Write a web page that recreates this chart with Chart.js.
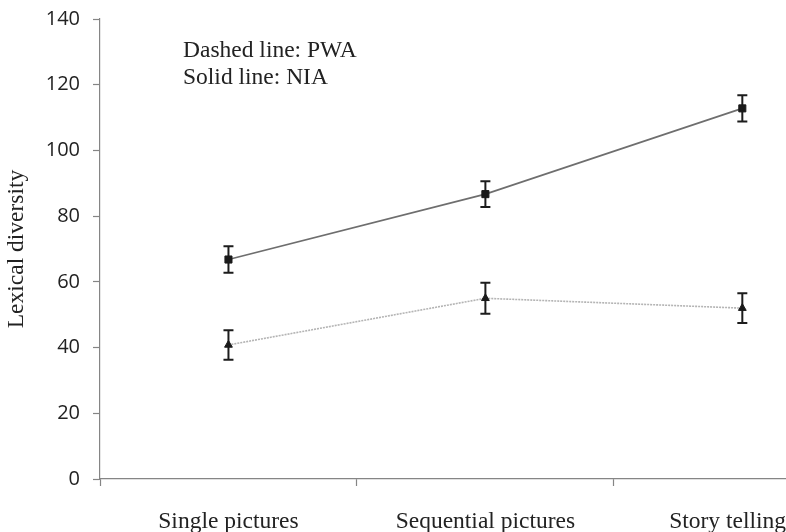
<!DOCTYPE html>
<html>
<head>
<meta charset="utf-8">
<script src="https://cdn.jsdelivr.net/npm/chart.js@4.4.1/dist/chart.umd.min.js"></script>
<style>
  html, body { margin: 0; padding: 0; background: #fff; }
  #wrap { position: relative; width: 786px; height: 532px; }
</style>
</head>
<body>
<div id="wrap"><canvas id="chart"></canvas></div>
<script>
'use strict';

const CATEGORIES = ['Single pictures', 'Sequential pictures', 'Story telling'];
const NIA_MEAN = [66.8, 86.7, 112.8];
const NIA_ERR = [4.0, 3.9, 4.0];
const PWA_MEAN = [40.8, 55.0, 52.0];
const PWA_ERR = [4.5, 4.7, 4.5];
const Y_TICKS = [0, 20, 40, 60, 80, 100, 120, 140];
const NOTE_LINES = ['Dashed line: PWA', 'Solid line: NIA'];

// x runs from the left category boundary to where the picture is cut off
const X_MIN = -0.5;
const X_MAX = 2.17;

const SERIF = "'Liberation Serif', 'Times New Roman', serif";
const SANS = "'Open Sans', 'Liberation Sans', sans-serif";
const INK = '#222';
const AXIS = '#858585';

const toPoints = values => values.map((v, i) => ({ x: i, y: v }));

function xTickLabel(value) {
  if (value === X_MAX) return CATEGORIES[CATEGORIES.length - 1];
  if (Number.isInteger(value) && value < CATEGORIES.length - 1) return CATEGORIES[value];
  return '';
}

function isBoundary(value) {
  return Math.abs(value % 1) === 0.5;
}

function noEdgePadding(scale) {
  scale.paddingLeft = 0;
  scale.paddingRight = 0;
  scale.paddingTop = 0;
  scale.paddingBottom = 0;
}

const errorBars = {
  id: 'errorBars',
  beforeDatasetsDraw(chart) {
    const { ctx, scales: { x, y } } = chart;
    ctx.save();
    ctx.strokeStyle = '#1c1c1c';
    ctx.lineWidth = 2;
    chart.data.datasets.forEach(ds => {
      (ds.errors || []).forEach((err, i) => {
        const pt = ds.data[i];
        const px = x.getPixelForValue(pt.x);
        const top = y.getPixelForValue(pt.y + err);
        const bot = y.getPixelForValue(pt.y - err);
        ctx.beginPath();
        ctx.moveTo(px, top);
        ctx.lineTo(px, bot);
        ctx.moveTo(px - 5, top);
        ctx.lineTo(px + 5, top);
        ctx.moveTo(px - 5, bot);
        ctx.lineTo(px + 5, bot);
        ctx.stroke();
      });
    });
    ctx.restore();
  },
};

const noteText = {
  id: 'noteText',
  afterDraw(chart) {
    const { ctx, chartArea } = chart;
    ctx.save();
    ctx.fillStyle = INK;
    ctx.font = `23.5px ${SERIF}`;
    ctx.textAlign = 'left';
    ctx.textBaseline = 'alphabetic';
    NOTE_LINES.forEach((line, i) => {
      ctx.fillText(line, chartArea.left + 83, chartArea.top + 38 + i * 27);
    });
    ctx.restore();
  },
};

new Chart(document.getElementById('chart'), {
  type: 'line',
  data: {
    datasets: [
      {
        label: 'NIA',
        data: toPoints(NIA_MEAN),
        errors: NIA_ERR,
        borderColor: '#6e6e6e',
        borderWidth: 1.6,
        pointStyle: 'rect',
        pointRadius: 5,
        pointBackgroundColor: '#1a1a1a',
        pointBorderColor: '#1a1a1a',
        pointBorderWidth: 1,
        tension: 0,
      },
      {
        label: 'PWA',
        data: toPoints(PWA_MEAN),
        errors: PWA_ERR,
        borderColor: '#b4b4b4',
        borderWidth: 1.6,
        borderDash: [2, 1],
        pointStyle: 'triangle',
        pointRadius: 4.5,
        pointBackgroundColor: '#1a1a1a',
        pointBorderColor: '#1a1a1a',
        pointBorderWidth: 1,
        tension: 0,
      },
    ],
  },
  options: {
    responsive: true,
    maintainAspectRatio: false,
    animation: false,
    layout: { autoPadding: false, padding: { top: 19, right: 0, left: 0, bottom: 0 } },
    plugins: {
      legend: { display: false },
      tooltip: { enabled: false },
    },
    scales: {
      x: {
        type: 'linear',
        min: X_MIN,
        max: X_MAX,
        afterBuildTicks: scale => {
          scale.ticks = [-0.5, 0, 0.5, 1, 1.5, X_MAX].map(value => ({ value }));
        },
        afterFit: scale => {
          scale.height = 53;
          noEdgePadding(scale);
        },
        border: { color: AXIS, width: 1.2 },
        grid: {
          drawOnChartArea: false,
          tickLength: 7,
          tickWidth: 1.2,
          tickColor: ctx => (ctx.tick && isBoundary(ctx.tick.value) ? AXIS : 'rgba(0,0,0,0)'),
        },
        ticks: {
          autoSkip: false,
          maxRotation: 0,
          align: 'inner',
          padding: 22,
          color: INK,
          font: { family: SERIF, size: 23.5 },
          callback: value => xTickLabel(value),
        },
      },
      y: {
        min: 0,
        max: 140,
        afterBuildTicks: scale => {
          scale.ticks = Y_TICKS.map(value => ({ value }));
        },
        afterFit: scale => {
          scale.width = 100;
          noEdgePadding(scale);
        },
        border: { color: AXIS, width: 1.2 },
        grid: {
          drawOnChartArea: false,
          tickLength: 7,
          tickWidth: 1.2,
          tickColor: AXIS,
        },
        ticks: {
          padding: 13,
          color: INK,
          font: { family: SANS, size: 20 },
        },
        title: {
          display: true,
          text: 'Lexical diversity',
          color: INK,
          font: { family: SERIF, size: 23.5 },
          padding: { top: 3, bottom: 0 },
        },
      },
    },
  },
  plugins: [errorBars, noteText],
});
</script>
</body>
</html>
